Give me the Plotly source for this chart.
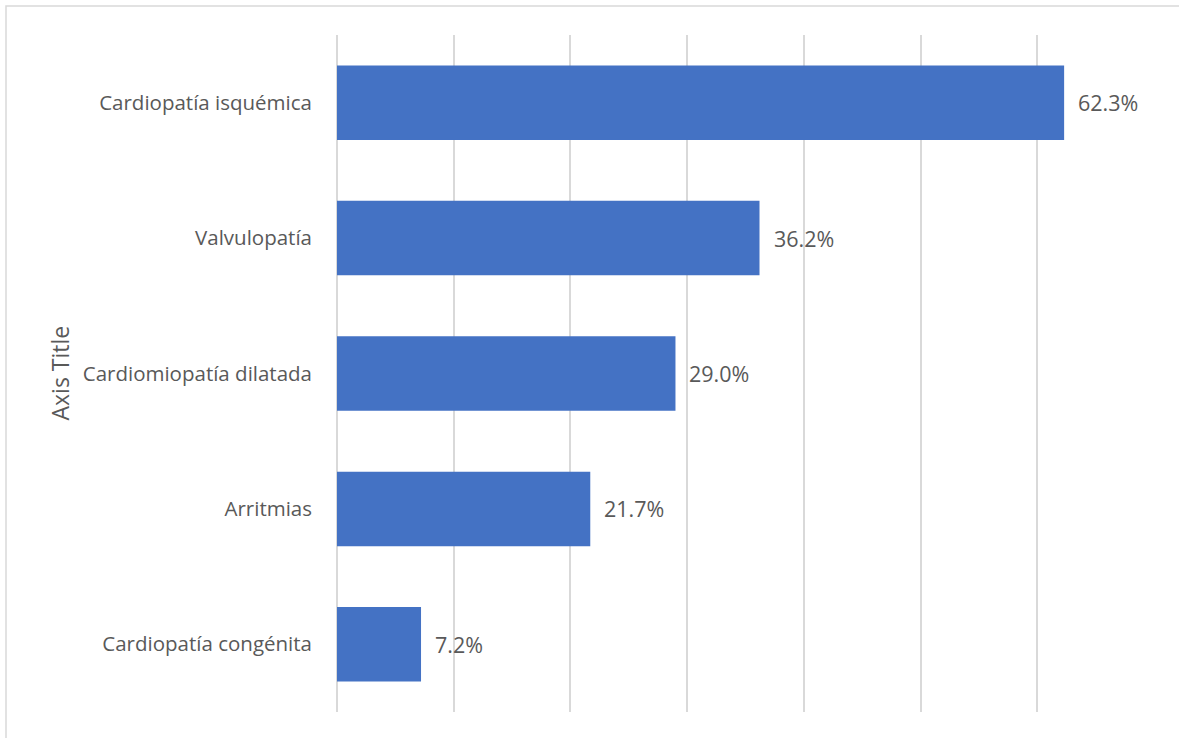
import plotly.graph_objects as go

categories = ["Cardiopatía isquémica", "Valvulopatía", "Cardiomiopatía dilatada", "Arritmias", "Cardiopatía congénita"]
values = [62.3, 36.2, 29.0, 21.7, 7.2]
labels = [f"{v:.1f}%" for v in values]

W, H = 1179, 738
L, R, T, B = 337, 1179 - 1154, 35, 738 - 712
PW, PH = W - L - R, H - T - B
FONT = "Open Sans"
GREY = "#595959"

fig = go.Figure(go.Bar(
    y=categories, x=values, orientation="h",
    marker=dict(color="#4472C4", line=dict(width=0)),
    hoverinfo="x+y",
))

annotations = [
    dict(x=v, y=c, xref="x", yref="y", text=t, showarrow=False,
         xanchor="left", xshift=12, font=dict(family=FONT, size=21.5, color=GREY))
    for c, v, t in zip(categories, values, labels)
]
annotations.append(dict(
    x=(59 - L) / PW, y=0.5, xref="paper", yref="paper", text="Axis Title",
    textangle=-90, showarrow=False, xanchor="center", yanchor="middle",
    font=dict(family=FONT, size=23, color=GREY),
))

fig.update_layout(
    width=W, height=H,
    margin=dict(l=L, r=R, t=T, b=B),
    paper_bgcolor="white", plot_bgcolor="white",
    bargap=0.45, showlegend=False,
    font=dict(family=FONT, color=GREY, size=20.5),
    xaxis=dict(range=[0, 70], dtick=10, showgrid=True, gridcolor="#d9d9d9", gridwidth=1.5,
               showticklabels=False, zeroline=True, zerolinecolor="#d9d9d9", zerolinewidth=1.5,
               fixedrange=True),
    yaxis=dict(autorange="reversed", showgrid=False, ticks="", ticklabelstandoff=24,
               tickfont=dict(family=FONT, size=20.5, color=GREY)),
    annotations=annotations,
    shapes=[dict(type="rect", xref="paper", yref="paper",
                 x0=(6 - L) / PW, x1=(W + 10 - L) / PW,
                 y0=-(B + 10) / PH, y1=1 + (T - 6) / PH,
                 line=dict(color="#d9d9d9", width=1.5), fillcolor="rgba(0,0,0,0)", layer="below")],
)

fig.write_html("out.html", config={"displayModeBar": False},
               post_script="document.body.style.margin='0';")
